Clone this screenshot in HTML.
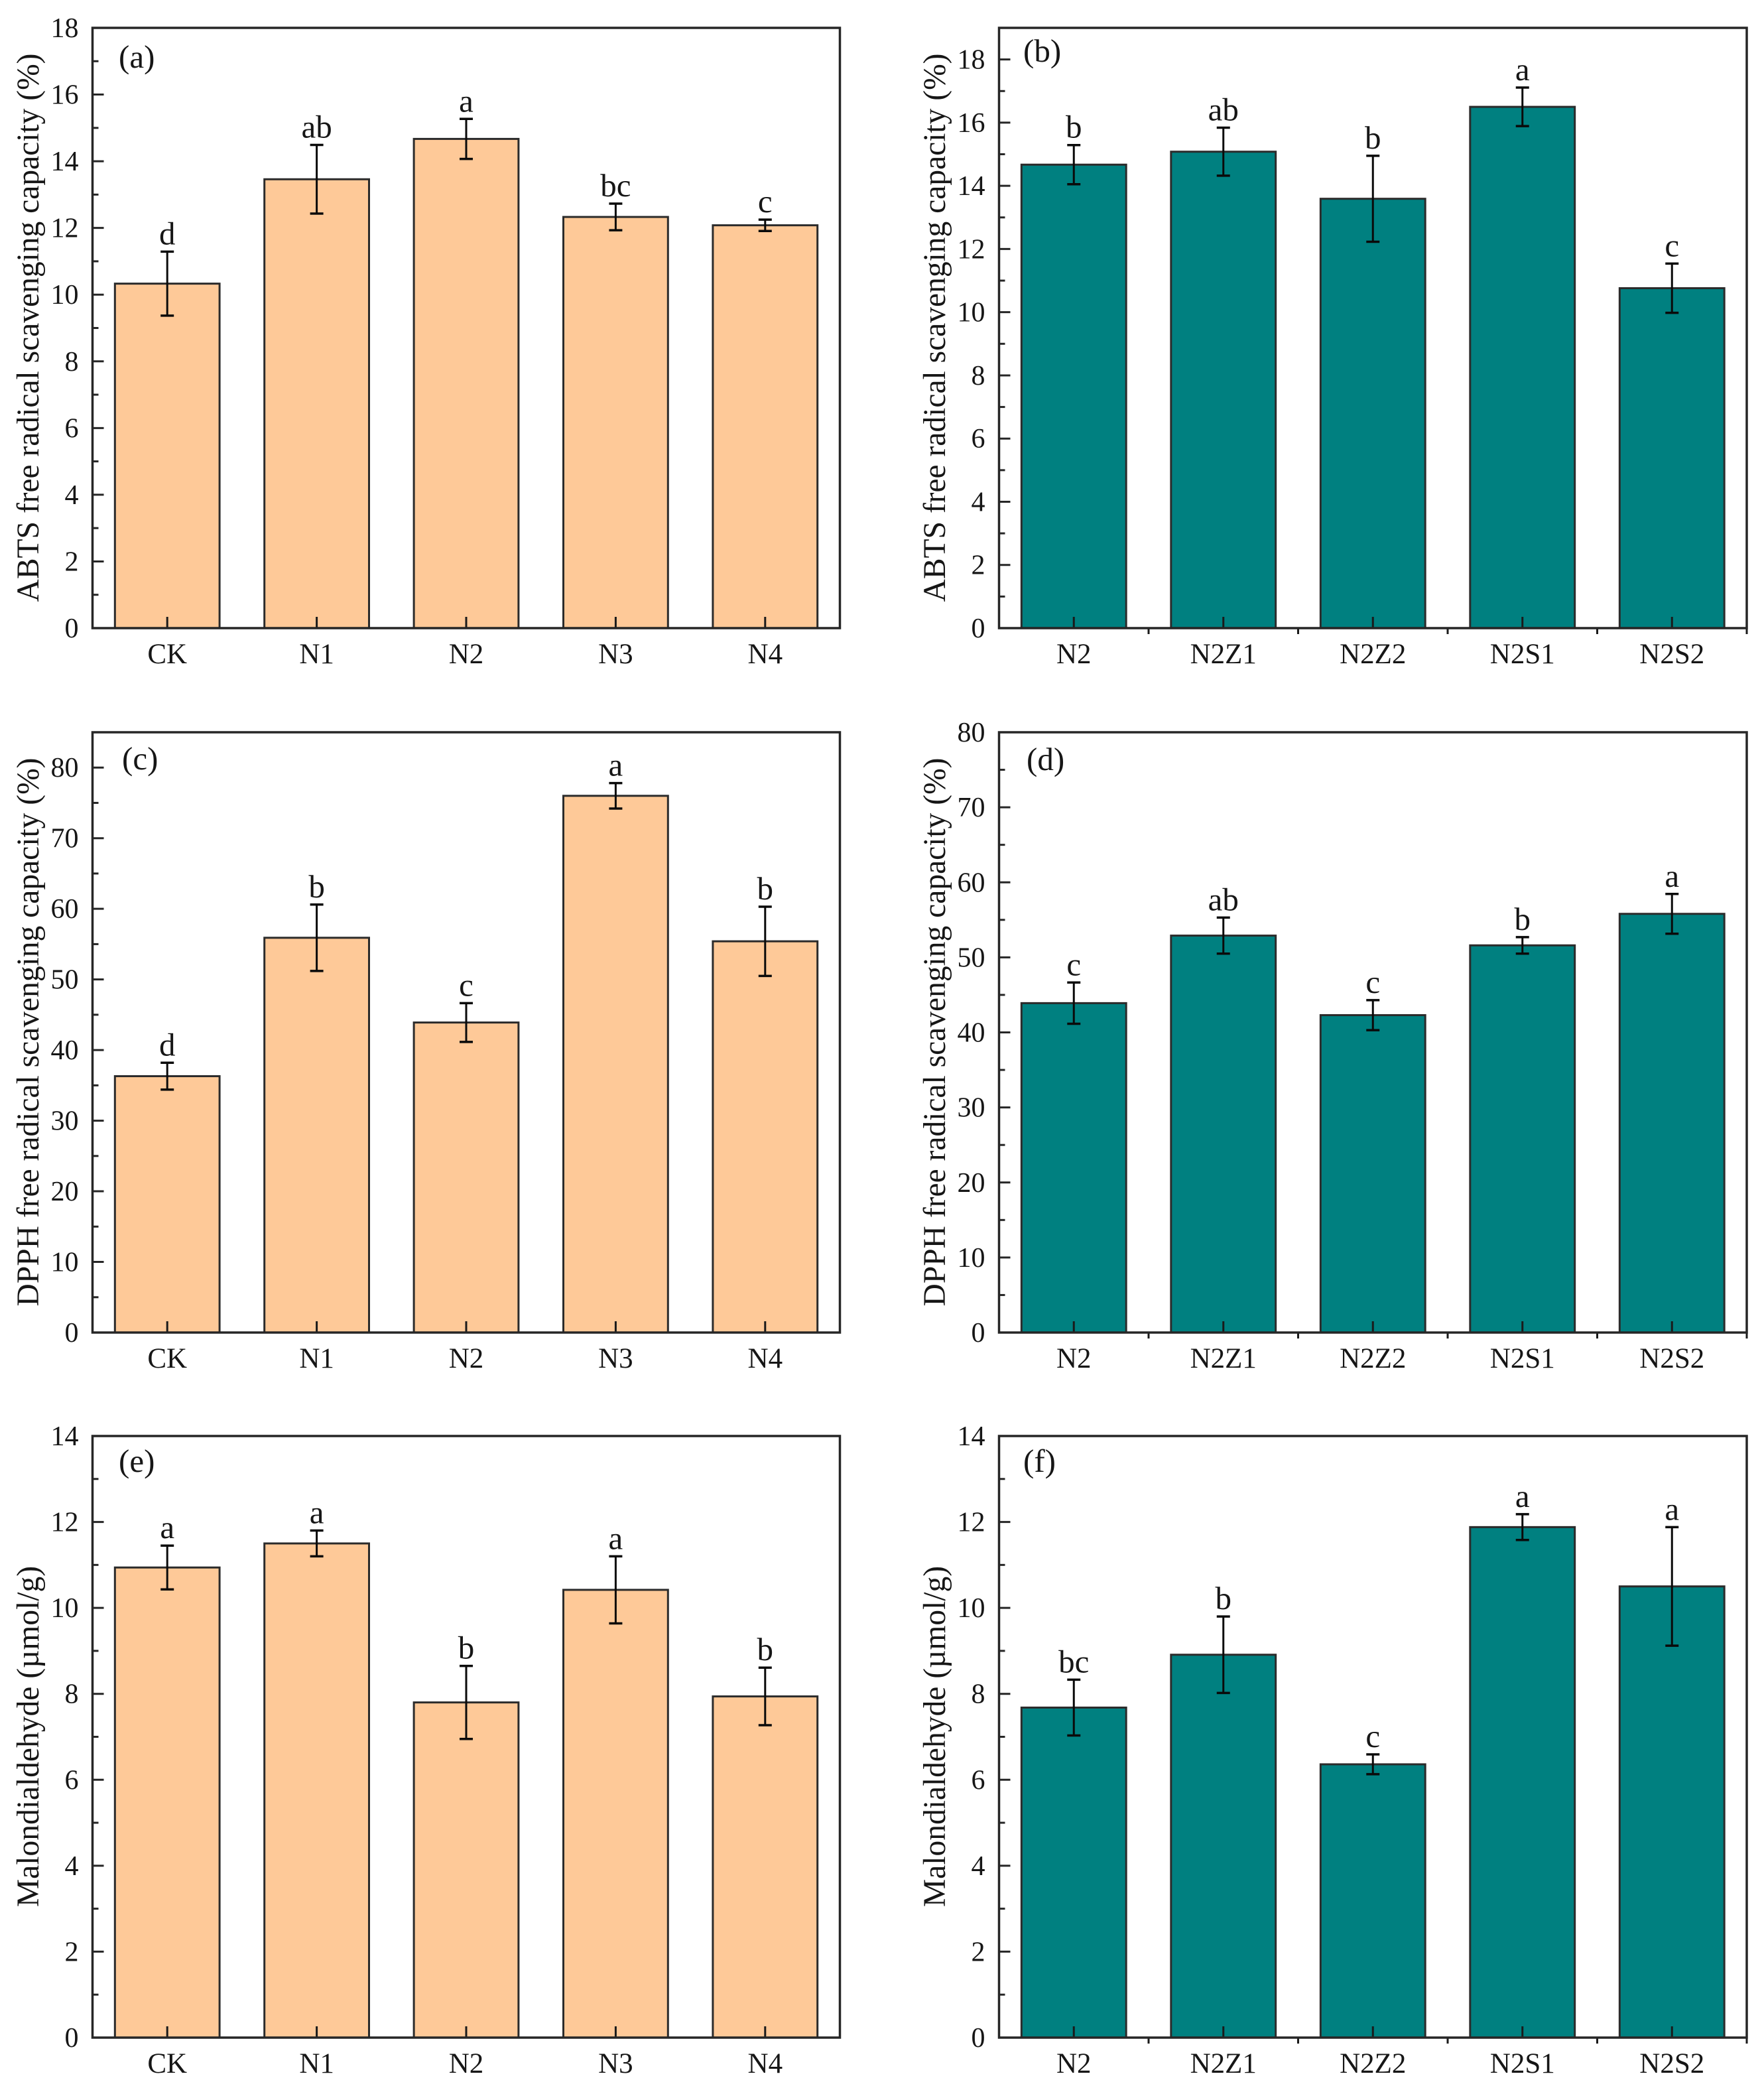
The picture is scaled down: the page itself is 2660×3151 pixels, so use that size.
<!DOCTYPE html>
<html lang="en">
<head>
<meta charset="utf-8">
<title>Antioxidant capacity and malondialdehyde bar charts</title>
<style>
html,body{margin:0;padding:0;background:#fff;}
svg{display:block;}
text{font-family:"Liberation Serif","DejaVu Serif",serif;fill:#161616;}
.axis-title{font-size:47.5px;}
.panel-tag{font-size:49px;}
</style>
</head>
<body>
<svg id="figure" xmlns="http://www.w3.org/2000/svg" width="2660" height="3151" viewBox="0 0 2660 3151">
  <rect x="0" y="0" width="2660" height="3151" fill="#ffffff"/>

  <g id="panel-a">
    <text class="axis-title" text-anchor="middle" transform="translate(58 494) rotate(-90)">ABTS free radical scavenging capacity (%)</text>
    <text class="panel-tag" x="179" y="102">(a)</text>
  </g>
  <g id="panel-b">
    <text class="axis-title" text-anchor="middle" transform="translate(1425 494) rotate(-90)">ABTS free radical scavenging capacity (%)</text>
    <text class="panel-tag" x="1543" y="93">(b)</text>
  </g>
  <g id="panel-c">
    <text class="axis-title" text-anchor="middle" transform="translate(58 1556) rotate(-90)">DPPH free radical scavenging capacity (%)</text>
    <text class="panel-tag" x="184" y="1160">(c)</text>
  </g>
  <g id="panel-d">
    <text class="axis-title" text-anchor="middle" transform="translate(1425 1556) rotate(-90)">DPPH free radical scavenging capacity (%)</text>
    <text class="panel-tag" x="1548" y="1161">(d)</text>
  </g>
  <g id="panel-e">
    <text class="axis-title" text-anchor="middle" transform="translate(58 2618) rotate(-90)">Malondialdehyde (µmol/g)</text>
    <text class="panel-tag" x="179" y="2219">(e)</text>
  </g>
  <g id="panel-f">
    <text class="axis-title" text-anchor="middle" transform="translate(1425 2618) rotate(-90)">Malondialdehyde (µmol/g)</text>
    <text class="panel-tag" x="1543" y="2219">(f)</text>
  </g>
</svg>

<script>
// Categories
const categoriesNitrogen = ['CK', 'N1', 'N2', 'N3', 'N4'];
const categoriesZincSelenium = ['N2', 'N2Z1', 'N2Z2', 'N2S1', 'N2S2'];

// Panel (a)
const valuesA = [10.33, 13.46, 14.67, 12.33, 12.08];
const errorsA = [0.96, 1.03, 0.60, 0.40, 0.17];
const lettersA = ['d', 'ab', 'a', 'bc', 'c'];
const ticksA = [0, 2, 4, 6, 8, 10, 12, 14, 16, 18];

// Panel (b)
const valuesB = [14.67, 15.08, 13.59, 16.50, 10.76];
const errorsB = [0.62, 0.76, 1.36, 0.61, 0.78];
const lettersB = ['b', 'ab', 'b', 'a', 'c'];
const ticksB = [0, 2, 4, 6, 8, 10, 12, 14, 16, 18];

// Panel (c)
const valuesC = [36.3, 55.9, 43.9, 76.0, 55.4];
const errorsC = [1.9, 4.7, 2.75, 1.8, 4.9];
const lettersC = ['d', 'b', 'c', 'a', 'b'];
const ticksC = [0, 10, 20, 30, 40, 50, 60, 70, 80];

// Panel (d)
const valuesD = [43.9, 52.9, 42.3, 51.6, 55.8];
const errorsD = [2.75, 2.4, 2.0, 1.1, 2.65];
const lettersD = ['c', 'ab', 'c', 'b', 'a'];
const ticksD = [0, 10, 20, 30, 40, 50, 60, 70, 80];

// Panel (e)
const valuesE = [10.94, 11.50, 7.80, 10.42, 7.94];
const errorsE = [0.51, 0.30, 0.85, 0.78, 0.67];
const lettersE = ['a', 'a', 'b', 'a', 'b'];
const ticksE = [0, 2, 4, 6, 8, 10, 12, 14];

// Panel (f)
const valuesF = [7.68, 8.91, 6.36, 11.88, 10.50];
const errorsF = [0.65, 0.89, 0.23, 0.30, 1.38];
const lettersF = ['bc', 'b', 'c', 'a', 'a'];
const ticksF = [0, 2, 4, 6, 8, 10, 12, 14];

const SVG_NS = 'http://www.w3.org/2000/svg';
const BAR_FRACTION = 0.7;
const LEFT_FILL = '#fec998';
const RIGHT_FILL = '#008080';
const FRAME_COLOR = '#262626';

function make(parent, tag, attrs) {
  const el = document.createElementNS(SVG_NS, tag);
  for (const key in attrs) {
    el.setAttribute(key, attrs[key]);
  }
  parent.appendChild(el);
  return el;
}

function segment(parent, x1, y1, x2, y2, width, color) {
  return make(parent, 'line', { x1: x1, y1: y1, x2: x2, y2: y2, stroke: color, 'stroke-width': width });
}

function drawPanel(options) {
  const root = document.getElementById(options.id);
  const left = options.left;
  const right = options.right;
  const top = options.top;
  const bottom = options.bottom;
  const categories = options.categories;
  const step = (right - left) / categories.length;
  const xScale = function (i) { return left + (i + 0.5) * step; };
  const yScale = function (v) { return bottom - (v / options.yMax) * (bottom - top); };
  const barWidth = step * BAR_FRACTION;

  // Bars, error bars, significance letters
  options.values.forEach(function (value, i) {
    const cx = xScale(i);
    const yTop = yScale(value);

    const bar = make(root, 'rect', {
      x: cx - barWidth / 2, y: yTop, width: barWidth, height: bottom - yTop,
      fill: options.fill, stroke: '#2b2b2b', 'stroke-width': 3
    });
    
    

    const err = options.errors[i];
    const yHigh = yScale(value + err);
    const yLow = yScale(value - err);

    const stem = segment(root, cx, yHigh, cx, yLow, 3, '#0a0a0a');
    
    

    const capTop = segment(root, cx - 10, yHigh, cx + 10, yHigh, 3.5, '#0a0a0a');
    
    

    const capBottom = segment(root, cx - 10, yLow, cx + 10, yLow, 3.5, '#0a0a0a');
    
    

    const letter = make(root, 'text', {
      x: cx, y: yHigh - 11, 'text-anchor': 'middle', 'font-size': 49
    });
    letter.textContent = options.letters[i];
    
    
  });

  // Y axis ticks
  const ticks = options.ticks;
  const tickStep = ticks[1] - ticks[0];
  ticks.forEach(function (tick) {
    const y = yScale(tick);
    const major = segment(root, left, y, left + 17, y, 3, FRAME_COLOR);
    
    

    const label = make(root, 'text', {
      x: left - 21, y: y + 14, 'text-anchor': 'end', 'font-size': 42
    });
    label.textContent = String(tick);
    
    

    const minorValue = tick + tickStep / 2;
    if (minorValue < options.yMax) {
      const yMinor = yScale(minorValue);
      const minor = segment(root, left, yMinor, left + 9, yMinor, 3, FRAME_COLOR);
      
      
    }
  });

  // X axis ticks and category labels
  categories.forEach(function (category, i) {
    const cx = xScale(i);
    const major = segment(root, cx, bottom, cx, bottom - 17, 3, '#1a1a1a');
    
    

    const label = make(root, 'text', {
      x: cx, y: bottom + 53, 'text-anchor': 'middle', 'font-size': 43
    });
    label.textContent = category;
    
    

    if (options.outerMinorTicks) {
      const mx = cx + step / 2;
      const minor = segment(root, mx, bottom, mx, bottom + 9, 3, '#1a1a1a');
      
      
    }
  });

  // Axes frame
  const frame = make(root, 'rect', {
    x: left, y: top, width: right - left, height: bottom - top,
    fill: 'none', stroke: FRAME_COLOR, 'stroke-width': 3.5
  });
  
  
}

const LEFT_X0 = 139.5, LEFT_X1 = 1266.5, RIGHT_X0 = 1506.5, RIGHT_X1 = 2634;

drawPanel({ id: 'panel-a', left: LEFT_X0, right: LEFT_X1, top: 42, bottom: 947, yMax: 18,
  categories: categoriesNitrogen, values: valuesA, errors: errorsA, letters: lettersA, ticks: ticksA,
  fill: LEFT_FILL, outerMinorTicks: false });
drawPanel({ id: 'panel-b', left: RIGHT_X0, right: RIGHT_X1, top: 42, bottom: 947, yMax: 19,
  categories: categoriesZincSelenium, values: valuesB, errors: errorsB, letters: lettersB, ticks: ticksB,
  fill: RIGHT_FILL, outerMinorTicks: true });
drawPanel({ id: 'panel-c', left: LEFT_X0, right: LEFT_X1, top: 1104, bottom: 2009, yMax: 85,
  categories: categoriesNitrogen, values: valuesC, errors: errorsC, letters: lettersC, ticks: ticksC,
  fill: LEFT_FILL, outerMinorTicks: false });
drawPanel({ id: 'panel-d', left: RIGHT_X0, right: RIGHT_X1, top: 1104, bottom: 2009, yMax: 80,
  categories: categoriesZincSelenium, values: valuesD, errors: errorsD, letters: lettersD, ticks: ticksD,
  fill: RIGHT_FILL, outerMinorTicks: true });
drawPanel({ id: 'panel-e', left: LEFT_X0, right: LEFT_X1, top: 2165, bottom: 3072, yMax: 14,
  categories: categoriesNitrogen, values: valuesE, errors: errorsE, letters: lettersE, ticks: ticksE,
  fill: LEFT_FILL, outerMinorTicks: false });
drawPanel({ id: 'panel-f', left: RIGHT_X0, right: RIGHT_X1, top: 2165, bottom: 3072, yMax: 14,
  categories: categoriesZincSelenium, values: valuesF, errors: errorsF, letters: lettersF, ticks: ticksF,
  fill: RIGHT_FILL, outerMinorTicks: true });
</script>
</body>
</html>
